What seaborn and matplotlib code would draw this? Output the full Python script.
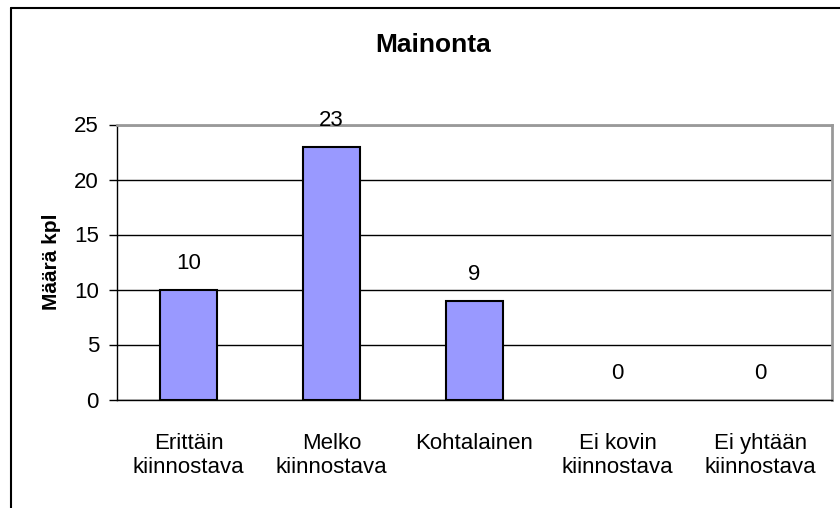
import matplotlib
matplotlib.use("Agg")
import matplotlib.pyplot as plt
import seaborn as sns
import pandas as pd
from matplotlib.lines import Line2D

categories = ["Erittäin\nkiinnostava", "Melko\nkiinnostava", "Kohtalainen",
              "Ei kovin\nkiinnostava", "Ei yhtään\nkiinnostava"]
values = [10, 23, 9, 0, 0]
title = "Mainonta"
ylabel = "Määrä kpl"
yticks = [0, 5, 10, 15, 20, 25]

sns.set_theme(style="white")
plt.rcParams['font.family'] = ['Liberation Sans', 'DejaVu Sans']
plt.rcParams['text.color'] = 'black'
plt.rcParams['axes.labelcolor'] = 'black'
plt.rcParams['xtick.color'] = 'black'
plt.rcParams['ytick.color'] = 'black'

df = pd.DataFrame({"cat": categories, "val": values})

fig = plt.figure(figsize=(8.4, 5.08), dpi=100)
ax = fig.add_axes([117/840, 1 - 399.5/508, (832 - 117)/840, (399.5 - 124.5)/508])

sns.barplot(data=df, x="cat", y="val", ax=ax, color="#9999FF", width=0.4,
            edgecolor="black", linewidth=1.5, saturation=1)

# zero-height bars are not drawn in the reference
for patch, v in zip(ax.patches, values):
    if v == 0:
        patch.set_visible(False)

ax.set_ylim(0, 25)
ax.set_xlim(-0.5, 4.5)
ax.set_yticks(yticks)
ax.set_yticklabels([str(t) for t in yticks], fontsize=16)
ax.yaxis.grid(True, color="black", linewidth=1)
ax.set_axisbelow(True)

ax.set_xticks([i for i in range(len(categories))])
ax.set_xticklabels(categories, fontsize=16, linespacing=1.2)
ax.tick_params(axis="x", length=0, pad=24)
ax.set_xticks([i - 0.5 for i in range(len(categories) + 1)], minor=True)
ax.tick_params(axis="x", which="minor", length=8, width=1, color="black", direction="out")
ax.tick_params(axis="y", length=6, width=1, color="black", direction="out", left=True, pad=7)

ax.set_xlabel("")
ax.set_ylabel(ylabel, fontsize=15, fontweight="bold")
ax.yaxis.set_label_coords(-0.078, 0.5)

for side in ["top", "right"]:
    ax.spines[side].set_color("#999999")
    ax.spines[side].set_linewidth(2)
for side in ["left", "bottom"]:
    ax.spines[side].set_color("black")
    ax.spines[side].set_linewidth(1)
    ax.spines[side].set_visible(True)

ax.bar_label(ax.containers[0], labels=[str(v) for v in values], padding=11, fontsize=16)

fig.text(433/840, 1 - 45/508, title, fontsize=19, fontweight="bold", ha="center", va="center")

fig.add_artist(Line2D([11/840, 11/840], [0, 1 - 8/508], color="black", linewidth=1.5,
                      transform=fig.transFigure))
fig.add_artist(Line2D([11/840, 1], [1 - 8/508, 1 - 8/508], color="black", linewidth=1.5,
                      transform=fig.transFigure))

fig.savefig("out.png", dpi=100)
